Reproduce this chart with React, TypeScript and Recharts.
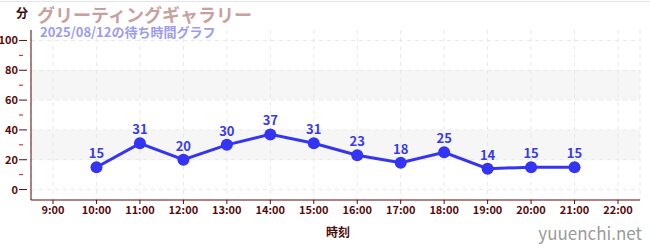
import React from "react";
import {
  LineChart,
  Line,
  XAxis,
  YAxis,
  CartesianGrid,
  LabelList,
} from "recharts";

const times = [
  "9:00", "10:00", "11:00", "12:00", "13:00", "14:00", "15:00",
  "16:00", "17:00", "18:00", "19:00", "20:00", "21:00", "22:00",
];
const waits = [null, 15, 31, 20, 30, 37, 31, 23, 18, 25, 14, 15, 15, null];
const yTicks = [0, 10, 20, 30, 40, 50, 60, 70, 80, 90, 100];
const majorTicks = [0, 20, 40, 60, 80, 100];

const data = times.map((t, i) => ({ time: t, wait: waits[i] }));

const axisColor = "#5a0a0a";
const band = "#f6f6f6";
const font = "'Noto Sans CJK JP', 'Noto Sans', sans-serif";

// stripes from the top: pad, 100-80, 80-60, 60-40, 40-20, 20-0, pad
const stripeFills = ["transparent", "transparent", band, "transparent", band, "transparent", "transparent"];

const YTick = (props: any) => {
  const { x, y, payload } = props;
  const v = payload.value;
  const major = v % 20 === 0;
  return (
    <g>
      {major ? (
        <>
          <line x1={x - 4} x2={x + 4} y1={y} y2={y} stroke={axisColor} />
          <text x={x - 5} y={y} dy={4} textAnchor="end" fontSize={11} fontWeight="bold" fill={axisColor} fontFamily={font}>
            {v}
          </text>
        </>
      ) : (
        <line x1={x - 4} x2={x} y1={y} y2={y} stroke="#d01010" />
      )}
    </g>
  );
};

export default function App() {
  return (
    <div style={{ position: "fixed", top: 0, left: 0, width: 650, height: 250, background: "#fff", fontFamily: font }}>
      <div style={{ position: "absolute", top: 1, left: 0, width: 650, height: 1, background: "#e4e4f2" }} />
      <LineChart
        width={650}
        height={250}
        data={data}
        margin={{ top: 30, right: 10, left: 0, bottom: 30 }}
      >
        <CartesianGrid
          stroke="#e8e8e8"
          strokeDasharray="4 4"
          horizontalValues={majorTicks}
          horizontalFill={stripeFills}
        />
        <XAxis
          dataKey="time"
          height={20}
          interval={0}
          padding={{ left: 22, right: 22 }}
          stroke={axisColor}
          tick={{ fontSize: 11, fontWeight: "bold", fill: axisColor, fontFamily: font }}
          tickSize={4}
          tickMargin={2}
        />
        <YAxis
          width={31}
          domain={[-7, 107]}
          ticks={yTicks}
          interval={0}
          allowDataOverflow
          stroke={axisColor}
          tickLine={false}
          tick={(p: any) => <YTick {...p} />}
        />
        <Line
          dataKey="wait"
          stroke="#3434f4"
          strokeWidth={3}
          dot={{ r: 6, fill: "#3434f4", stroke: "#3434f4", strokeWidth: 0 }}
          activeDot={false}
          isAnimationActive={false}
        >
          <LabelList
            dataKey="wait"
            position="top"
            offset={9}
            fill="#3a3ae8"
            fontSize={13}
            fontWeight="bold"
            fontFamily={font}
          />
        </Line>
      </LineChart>
      <div style={{ position: "absolute", left: 16, top: 5, fontSize: 12, fontWeight: "bold", color: "#3a0a0a", lineHeight: "16px" }}>分</div>
      <div style={{ position: "absolute", left: 37, top: 4, fontSize: 18, fontWeight: "bold", color: "#c9a0a0", lineHeight: "20px" }}>
        グリーティングギャラリー
      </div>
      <div style={{ position: "absolute", left: 40, top: 25, fontSize: 13, fontWeight: "bold", color: "#9c9cf0", lineHeight: "14px" }}>
        2025/08/12の待ち時間グラフ
      </div>
      <div style={{ position: "absolute", left: 326, top: 223, fontSize: 12, fontWeight: "bold", color: "#4a0a0a" }}>時刻</div>
      <div style={{ position: "absolute", right: 8, top: 220, fontSize: 17, color: "#9a9a9a" }}>yuuenchi.net</div>
    </div>
  );
}
